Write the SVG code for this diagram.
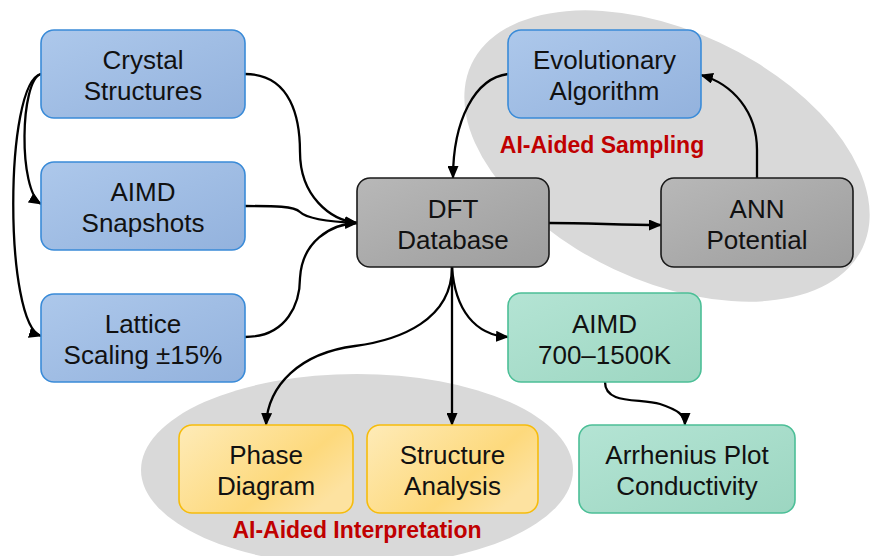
<svg xmlns="http://www.w3.org/2000/svg" width="870" height="556" viewBox="0 0 870 556">
<defs>
<linearGradient id="gBlue" x1="0" y1="0" x2="1" y2="1"><stop offset="0" stop-color="#adc8eb"/><stop offset="1" stop-color="#93b2dd"/></linearGradient>
<linearGradient id="gGray" x1="0" y1="0" x2="1" y2="1"><stop offset="0" stop-color="#b8b8b8"/><stop offset="1" stop-color="#9d9d9d"/></linearGradient>
<linearGradient id="gGreen" x1="0" y1="0" x2="1" y2="1"><stop offset="0" stop-color="#b4e4d4"/><stop offset="1" stop-color="#9cd6c1"/></linearGradient>
<linearGradient id="gYellow" x1="0" y1="0" x2="1" y2="0.6"><stop offset="0" stop-color="#feebb8"/><stop offset="0.7" stop-color="#fdd97c"/><stop offset="1" stop-color="#fde2a0"/></linearGradient>
<marker id="arr" markerUnits="userSpaceOnUse" markerWidth="13" markerHeight="11" refX="12" refY="5.5" orient="auto"><path d="M0,0 L13,5.5 L0,11 z" fill="#000"/></marker>
<style>
.blue rect{fill:url(#gBlue);stroke:#3a8bd8;stroke-width:1.6}
.gray rect{fill:url(#gGray);stroke:#1a1a1a;stroke-width:1.6}
.green rect{fill:url(#gGreen);stroke:#4cbf97;stroke-width:1.6}
.yellow rect{fill:url(#gYellow);stroke:#f6bc0c;stroke-width:1.6}
.node text{font-family:"Liberation Sans",Arial,sans-serif;font-size:26px;fill:#111;text-anchor:middle}
.lbl{font-family:"Liberation Sans",Arial,sans-serif;font-size:23px;font-weight:bold;fill:#c00000;text-anchor:middle}
.blob{fill:#d9d9d9}
#connectors path{fill:none;stroke:#000;stroke-width:2.3;marker-end:url(#arr)}
</style>
</defs>
<rect width="870" height="556" fill="#fff"/>
<g id="group-sampling">
<ellipse class="blob" cx="667" cy="156" rx="216" ry="125" transform="rotate(25.1 667 156)"/>
<text class="lbl" x="602" y="153">AI-Aided Sampling</text>
</g>
<g id="group-interpretation">
<ellipse class="blob" cx="357" cy="470" rx="216" ry="96"/>
<text class="lbl" x="357" y="538">AI-Aided Interpretation</text>
</g>
<g id="connectors">
<path d="M41,74 C20,80 18,190 41,204"/>
<path d="M41,74 C4,82 4,325 41,336"/>
<path d="M245,74 C292,74 300,120 300,152 C300,196 330,220 357,223"/>
<path d="M245,206 C275,206 294,206 300,212 C308,220 335,222 357,223"/>
<path d="M245,337 C288,337 300,302 300,278 C302,242 330,224 357,223"/>
<path d="M549,223 C590,223 620,225 661,225"/>
<path d="M757,178 L757,150 C757,112 733,84 701,75"/>
<path d="M508,74 C475,78 453,120 453,178"/>
<path d="M452,267 C455,310 475,335 508,337"/>
<path d="M452,267 L452,425"/>
<path d="M452,267 C452,320 400,340 355,346 C300,353 268,385 266,425"/>
<path d="M605,382 C605,405 640,398 660,404 C678,410 685,415 685,425"/>
</g>
<g id="n-crystal" class="node blue"><rect x="41" y="30" width="204" height="88" rx="13"/><text x="143" y="69">Crystal</text><text x="143" y="100">Structures</text></g>
<g id="n-aimd-snap" class="node blue"><rect x="41" y="162" width="204" height="88" rx="13"/><text x="143" y="201">AIMD</text><text x="143" y="232">Snapshots</text></g>
<g id="n-lattice" class="node blue"><rect x="41" y="294" width="204" height="88" rx="13"/><text x="143" y="333">Lattice</text><text x="143" y="364">Scaling ±15%</text></g>
<g id="n-dft" class="node gray"><rect x="357" y="178" width="192" height="89" rx="13"/><text x="453" y="217.5">DFT</text><text x="453" y="248.5">Database</text></g>
<g id="n-ann" class="node gray"><rect x="661" y="178" width="192" height="89" rx="13"/><text x="757" y="217.5">ANN</text><text x="757" y="248.5">Potential</text></g>
<g id="n-evol" class="node blue"><rect x="508" y="30" width="193" height="88" rx="13"/><text x="604.5" y="69">Evolutionary</text><text x="604.5" y="100">Algorithm</text></g>
<g id="n-aimd-md" class="node green"><rect x="508" y="293" width="193" height="89" rx="13"/><text x="604.5" y="332.5">AIMD</text><text x="604.5" y="363.5">700–1500K</text></g>
<g id="n-phase" class="node yellow"><rect x="179" y="425" width="174" height="88" rx="13"/><text x="266" y="464">Phase</text><text x="266" y="495">Diagram</text></g>
<g id="n-structure" class="node yellow"><rect x="367" y="425" width="171" height="88" rx="13"/><text x="452.5" y="464">Structure</text><text x="452.5" y="495">Analysis</text></g>
<g id="n-arrhenius" class="node green"><rect x="579" y="425" width="216" height="88" rx="13"/><text x="687" y="464">Arrhenius Plot</text><text x="687" y="495">Conductivity</text></g>
</svg>
